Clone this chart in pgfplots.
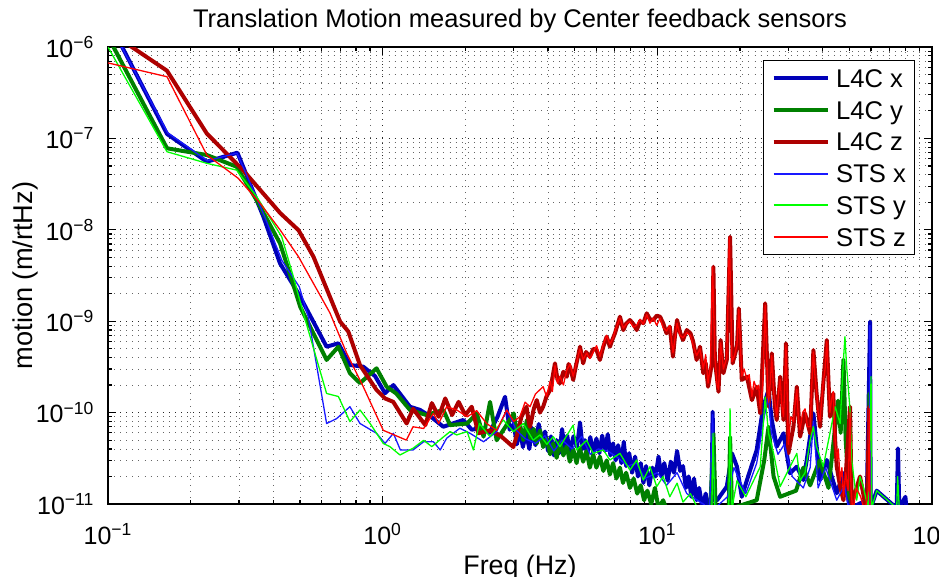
\documentclass[border=0pt]{standalone}
\usepackage{pgfplots}
\pgfplotsset{compat=1.18}
\usepackage{fontspec}
\setmainfont{Liberation Sans}

\definecolor{l4cx}{rgb}{0,0,0.72}
\definecolor{l4cy}{rgb}{0,0.5,0}
\definecolor{l4cz}{rgb}{0.68,0,0}
\definecolor{stsx}{rgb}{0.1,0.1,1}
\definecolor{stsy}{rgb}{0,1,0}
\definecolor{stsz}{rgb}{1,0,0}

\begin{document}
\begin{tikzpicture}
\path[use as bounding box] (-54pt,-36.5pt) rectangle (415.5pt,252pt);
\begin{axis}[
  at={(0,0)}, anchor=south west,
  scale only axis, width=412pt, height=228.5pt,
  xmode=log, ymode=log,
  xmin=0.1, xmax=100, ymin=1e-11, ymax=1e-6,
  xtick={0.1,1,10,100},
  xticklabels={10\textsuperscript{−1},10\textsuperscript{0},10\textsuperscript{1},10\textsuperscript{2}},
  ytick={1e-11,1e-10,1e-9,1e-8,1e-7,1e-6},
  yticklabels={10\textsuperscript{−11},10\textsuperscript{−10},10\textsuperscript{−9},10\textsuperscript{−8},10\textsuperscript{−7},10\textsuperscript{−6}},
  minor xtick={0.2,0.3,0.4,0.5,0.6,0.7,0.8,0.9,2,3,4,5,6,7,8,9,20,30,40,50,60,70,80,90},
  minor ytick={2e-11,3e-11,4e-11,5e-11,6e-11,7e-11,8e-11,9e-11,
               2e-10,3e-10,4e-10,5e-10,6e-10,7e-10,8e-10,9e-10,
               2e-9,3e-9,4e-9,5e-9,6e-9,7e-9,8e-9,9e-9,
               2e-8,3e-8,4e-8,5e-8,6e-8,7e-8,8e-8,9e-8,
               2e-7,3e-7,4e-7,5e-7,6e-7,7e-7,8e-7,9e-7},
  grid=both,
  major grid style={line width=0.45pt, black!85, dash pattern=on 0.45pt off 2.6pt},
  minor grid style={line width=0.45pt, black!60, dash pattern=on 0.45pt off 2.6pt},
  axis line style={line width=0.75pt},
  tick align=inside, tick pos=both,
  major tick length=4pt, minor tick length=2pt,
  every tick/.style={black, line width=0.6pt},
  tick label style={font=\fontsize{12.5}{14}\selectfont},
  xticklabel style={anchor=base, yshift=-20pt},
  yticklabel style={anchor=east, xshift=-3.3pt},
  title={Translation Motion measured by Center feedback sensors},
  title style={at={(axis description cs:0.5,1)}, anchor=base, yshift=3.85pt, font=\fontsize{12.75}{15}\selectfont},
  xlabel={Freq (Hz)},
  xlabel style={at={(axis description cs:0.5,0)}, anchor=base, yshift=-35pt, font=\fontsize{13.4}{15}\selectfont},
  ylabel={motion (m/rtHz)},
  ylabel style={at={(axis description cs:-0.0915,0.5)}, anchor=base, font=\fontsize{13.6}{15}\selectfont},
  legend style={at={(axis description cs:1,1)}, anchor=north east, xshift=-8.85pt, yshift=-6.5pt,
    draw=black, fill=white, font=\fontsize{12.8}{15}\selectfont,
    inner xsep=4pt, inner ysep=0.9pt, row sep=0pt, column sep=3.3pt,
    nodes={inner sep=0pt, text height=12.55pt, text depth=3.35pt}},
  legend cell align=left,
]

% L4C x
\addplot[color=l4cx, line width=2pt, line join=round,
  legend image code/.code={\draw[l4cx, line width=2pt] (0pt,0pt) -- (27pt,0pt);}] coordinates {
(0.1,2.0e-6) (0.164,1.12e-7) (0.229,5.56e-8) (0.296,6.98e-8) (0.368,1.39e-8) (0.423,4.29e-9)
(0.493,2.02e-9) (0.625,5.26e-10) (0.69,5.73e-10) (0.76,3.32e-10) (0.85,3.18e-10) (0.938,2.51e-10)
(1.02,1.63e-10) (1.094,2.0e-10) (1.257,1.16e-10) (1.368,1.07e-10) (1.5,9.0e-11) (1.663,7.0e-11)
(1.8,7.6e-11) (1.966,8.3e-11) (2.11,6.5e-11) (2.3,6.8e-11) (2.45,6.0e-11) (2.62,9.0e-11)
(2.79,1.49e-10) (2.9,6.5e-11)
(3.0,7.5e-11) (3.08,4.5e-11) (3.16,6.5e-11) (3.24,4.2e-11) (3.33,6.0e-11) (3.42,4.0e-11)
(3.5,6.8e-11) (3.6,4.4e-11) (3.7,7.5e-11) (3.8,4.8e-11) (3.9,6.2e-11) (4.0,3.8e-11)
(4.1,5.5e-11) (4.2,3.4e-11) (4.3,5.0e-11) (4.4,3.6e-11) (4.5,6.6e-11) (4.6,4.0e-11)
(4.7,5.6e-11) (4.8,3.6e-11) (4.95,5.5e-11) (5.1,4.2e-11) (5.23,7.8e-11) (5.35,4.0e-11)
(5.45,5.0e-11) (5.55,3.4e-11) (5.7,5.4e-11) (5.85,3.6e-11) (6.0,5.2e-11) (6.15,3.6e-11)
(6.3,5.6e-11) (6.45,3.8e-11) (6.6,5.8e-11) (6.75,3.4e-11) (6.9,4.6e-11) (7.05,3.0e-11)
(7.2,4.4e-11) (7.4,2.8e-11) (7.55,4.8e-11) (7.7,2.6e-11) (7.9,3.6e-11) (8.1,2.2e-11)
(8.3,3.3e-11) (8.5,2.0e-11) (8.7,2.8e-11) (8.9,1.7e-11) (9.1,2.6e-11) (9.35,1.6e-11)
(9.6,2.5e-11) (9.85,2.0e-11) (10.1,3.3e-11) (10.35,2.0e-11) (10.6,2.8e-11) (10.9,1.8e-11)
(11.2,2.9e-11) (11.5,2.2e-11) (11.8,3.8e-11) (12.1,2.3e-11) (12.4,2.6e-11) (12.7,1.5e-11)
(13.0,2.0e-11) (13.3,1.2e-11) (13.6,1.9e-11) (13.9,1.1e-11) (14.2,1.5e-11) (14.6,9e-12)
(15.0,1.3e-11) (15.4,9e-12) (15.75,1.1e-11) (15.9,1.02e-10) (16.1,1.1e-11)
(16.5,1.1e-11) (17.9,1.55e-11) (18.7,3.58e-11) (19.5,2.56e-11) (20.3,1.2e-11) (21.2,1.83e-11)
(23.0,3.9e-11) (24.3,1.16e-10) (25.4,1.77e-10) (26.1,8.3e-11) (27.2,4.24e-11) (28.8,5.94e-11)
(30.4,2.17e-11) (32.2,2.56e-11) (34.0,1.83e-11) (35.0,3.03e-11) (37.0,9.8e-11) (39.1,1.83e-11)
(41.4,3.03e-11) (45.0,1.31e-11) (47.6,2.17e-11) (50.3,9e-12) (57.9,1.1e-11) (59.1,3.2e-10)
(59.5,9.9e-10) (59.8,9e-12) (62.9,1.4e-11) (74.4,9e-12) (75.2,4.07e-11) (76.0,9e-12)
(80.0,1.2e-11) (81,8e-12)
};
\addlegendentry{L4C x}

% L4C y
\addplot[color=l4cy, line width=2pt, line join=round,
  legend image code/.code={\draw[l4cy, line width=2pt] (0pt,0pt) -- (27pt,0pt);}] coordinates {
(0.1,1.3e-6) (0.164,7.8e-8) (0.229,6.58e-8) (0.294,4.9e-8) (0.348,2.1e-8) (0.423,7.1e-9)
(0.467,2.82e-9) (0.501,1.44e-9) (0.625,3.77e-10) (0.69,5.26e-10) (0.76,2.7e-10) (0.827,2.1e-10)
(0.95,3.05e-10) (1.034,1.92e-10) (1.12,1.62e-10) (1.257,1.07e-10) (1.445,9.4e-11) (1.663,1.07e-10)
(1.76,7.3e-11) (2.03,7.6e-11) (2.2,9.8e-11) (2.33,5.45e-11) (2.46,1.31e-10) (2.6,4.98e-11)
(2.8,7.0e-11)
(3.0,9.8e-11) (3.08,6.0e-11) (3.16,7.5e-11) (3.25,5.0e-11) (3.35,8.3e-11) (3.45,5.2e-11)
(3.55,6.6e-11) (3.64,4.6e-11) (3.74,6.4e-11) (3.84,4.2e-11) (3.96,5.2e-11) (4.07,3.5e-11)
(4.18,4.6e-11) (4.3,3.2e-11) (4.42,4.8e-11) (4.55,3.4e-11) (4.68,4.3e-11) (4.8,2.9e-11)
(4.94,4.0e-11) (5.08,2.8e-11) (5.22,4.1e-11) (5.37,2.9e-11) (5.52,3.8e-11) (5.68,2.5e-11)
(5.84,3.5e-11) (6.0,2.5e-11) (6.18,3.3e-11) (6.36,2.3e-11) (6.54,3.0e-11) (6.72,2.1e-11)
(6.9,2.8e-11) (7.1,1.9e-11) (7.31,2.5e-11) (7.5,1.7e-11) (7.7,2.2e-11) (7.95,1.5e-11)
(8.2,1.9e-11) (8.45,1.3e-11) (8.7,1.6e-11) (8.95,1.1e-11) (9.2,1.4e-11) (9.5,1.0e-11)
(9.8,1.5e-11) (10.1,9e-12) (10.5,1.1e-11) (10.9,8e-12)
(15.6,9e-12) (16.0,5.9e-11) (16.3,9e-12) (18.2,9e-12)
(18.4,5.4e-11) (18.7,9e-12) (23,1.1e-11) (24.5,3e-11) (25.4,7e-11) (26.5,2e-11)
(28,1.2e-11) (32,1.4e-11) (34,2.5e-11) (36,1.6e-11) (39,3e-11) (42,1.5e-11)
(45.5,1.35e-10) (46.5,6e-11) (47.6,3.8e-10) (48.5,5e-11) (50,1.2e-11) (52,9e-12)
(59.0,9e-12) (59.2,1.6e-10) (59.5,9e-12)
};
\addlegendentry{L4C y}

% L4C z
\addplot[color=l4cz, line width=2pt, line join=round,
  legend image code/.code={\draw[l4cz, line width=2pt] (0pt,0pt) -- (27pt,0pt);}] coordinates {
(0.1,1.5e-6) (0.164,5.5e-7) (0.229,1.13e-7) (0.31,4.5e-8) (0.424,1.52e-8) (0.494,9.9e-9)
(0.56,5.07e-9) (0.70,9.9e-10) (0.75,7.7e-10) (0.827,3.3e-10) (0.95,1.77e-10) (1.02,1.43e-10)
(1.093,1.31e-10) (1.223,7.6e-11) (1.29,1.1e-10) (1.43,7.3e-11) (1.51,1.27e-10) (1.6,9.0e-11)
(1.69,1.43e-10) (1.79,9.4e-11) (1.89,1.31e-10) (2.0,9.4e-11) (2.11,1.16e-10) (2.23,5.94e-11)
(2.46,6.4e-11) (2.7,5.5e-11) (2.99,4.2e-11) (3.1,6e-11) (3.2,9e-11) (3.34,1.16e-10)
(3.4,8e-11) (3.44,7.0e-11) (3.55,1.1e-10) (3.64,1.37e-10) (3.74,1.0e-10) (3.84,1.16e-10)
(3.95,1.5e-10) (4.07,1.77e-10) (4.15,2.4e-10) (4.24,3.46e-10) (4.33,2.3e-10) (4.42,2.09e-10)
(4.55,2.8e-10) (4.68,2.47e-10) (4.75,3.4e-10) (4.81,3.17e-10) (4.94,2.28e-10) (5.05,3.2e-10)
(5.15,4.2e-10) (5.23,5.26e-10) (5.37,3.46e-10) (5.5,4.6e-10) (5.68,4.09e-10) (5.85,5.0e-10)
(6.01,4.84e-10) (6.18,3.77e-10) (6.35,5.2e-10) (6.54,6.77e-10) (6.72,5.26e-10) (6.85,6.2e-10)
(7.01,7.37e-10) (7.15,9e-10) (7.31,1.12e-9) (7.52,8.0e-10) (7.7,9.4e-10) (7.95,1.03e-9)
(8.2,9.2e-10) (8.41,8.0e-10) (8.65,1.0e-9) (8.9,9.5e-10) (9.15,1.22e-9) (9.4,1.05e-9)
(9.67,1.03e-9) (9.95,1.15e-9) (10.23,1.12e-9) (10.5,9.5e-10) (10.8,7.37e-10) (11.1,8.7e-10)
(11.25,6e-10) (11.4,4.09e-10) (11.6,7e-10) (11.8,1.03e-9) (12.1,7.5e-10) (12.4,6.23e-10)
(12.8,8.0e-10) (13.2,7.37e-10) (13.5,6e-10) (13.9,3.77e-10) (14.3,5.26e-10) (14.7,2.7e-10)
(15.0,3.5e-10) (15.3,1.92e-10) (15.8,3.46e-10) (16.0,3.95e-9) (16.2,3.77e-10)
(16.7,1.69e-10) (17.0,6.23e-10) (17.4,2.7e-10) (17.9,3.77e-10) (18.4,8.4e-9) (18.8,3.46e-10)
(19.5,5.26e-10) (19.8,1.38e-9) (20.3,2.28e-10) (21.2,2.47e-10) (22.1,1.37e-10) (23.0,1.92e-10)
(23.7,9.8e-11) (24.7,1.57e-9) (25.4,1.16e-10) (26.1,4.45e-10) (26.8,1.16e-10) (27.2,8.3e-11)
(28.0,2.47e-10) (28.8,8.3e-11) (29.4,5.73e-10) (30.0,3.58e-11) (31.3,7.0e-11) (32.2,1.92e-10)
(33.1,5.45e-11) (34.5,9.8e-11) (36.0,5.94e-11) (37.0,4.84e-10) (38.0,1.62e-10) (39.1,7.0e-11)
(40.2,2.09e-10) (41.4,6.23e-10) (42.5,9.0e-11) (43.7,1.62e-10) (44.4,5.0e-11) (45.0,2.56e-11)
(46.3,1.55e-11) (47.6,1.1e-11) (48.5,2.0e-11) (50.3,1.16e-10) (51.0,1.0e-11) (54.7,2.0e-11)
(57.9,8e-12) (59.1,1.16e-10) (59.6,8e-12)
};
\addlegendentry{L4C z}

% STS x
\addplot[color=stsx, line width=0.65pt, line join=round,
  legend image code/.code={\draw[stsx, line width=1pt] (0pt,0pt) -- (27pt,0pt);}] coordinates {
(0.1,1.9e-6) (0.165,1.15e-7) (0.23,5.7e-8) (0.295,6.9e-8) (0.37,1.45e-8) (0.43,4.6e-9)
(0.497,2.38e-9) (0.536,1.12e-9) (0.625,7.6e-11) (0.68,8.6e-11) (0.76,1.16e-10) (0.827,7.6e-11)
(0.95,5.94e-11) (1.02,4.6e-11) (1.094,5.94e-11) (1.16,3.9e-11) (1.29,3.9e-11) (1.41,4.8e-11)
(1.53,4.8e-11) (1.62,3.9e-11) (1.71,5.24e-11) (1.91,6.74e-11) (2.08,5.94e-11) (2.33,4.8e-11)
(2.6,6.18e-11) (2.83,1.07e-10) (3.07,6.4e-11) (3.3,5.2e-11) (3.6,4.6e-11) (3.9,5.6e-11)
(4.2,3.8e-11) (4.5,5.0e-11) (4.9,4.0e-11) (5.3,5.5e-11) (5.7,3.5e-11) (6.1,4.0e-11)
(6.6,3.8e-11) (7.2,3.2e-11) (7.8,2.6e-11) (8.4,2.8e-11) (9.0,1.9e-11) (10.0,2.2e-11)
(10.8,1.6e-11) (11.8,2.2e-11) (12.8,1.3e-11) (14,1.1e-11) (15.5,9e-12) (15.9,9.5e-11)
(16.2,9e-12) (18,1.2e-11) (19,2.5e-11) (21,1.3e-11) (23,2.8e-11) (24.5,9e-11)
(25.4,1.5e-10) (26,6e-11) (27.5,3.5e-11) (29,4.5e-11) (31,2e-11) (34,1.5e-11)
(36,2.5e-11) (37,8e-11) (38.5,1.5e-11) (41,2.5e-11) (45,1.1e-11) (48,1.6e-11)
(50,8e-12) (59.0,1e-11) (59.4,9e-10) (59.8,8e-12)
};
\addlegendentry{STS x}

% STS y
\addplot[color=stsy, line width=0.65pt, line join=round,
  legend image code/.code={\draw[stsy, line width=1pt] (0pt,0pt) -- (27pt,0pt);}] coordinates {
(0.1,1.0e-6) (0.164,7.15e-8) (0.229,5.34e-8) (0.294,4.5e-8) (0.348,2.3e-8) (0.429,8.4e-9)
(0.473,3.07e-9) (0.514,1.23e-9) (0.625,1.62e-10) (0.69,1.5e-10) (0.76,7.97e-11) (0.827,1.07e-10)
(0.9,7.6e-11) (1.005,4.6e-11) (1.063,4.24e-11) (1.156,3.44e-11) (1.29,4.07e-11) (1.41,4.98e-11)
(1.51,4.24e-11) (1.65,5.3e-11) (1.76,6.2e-11) (1.86,5.7e-11) (2.03,6.2e-11) (2.14,3.9e-11)
(2.25,7.6e-11) (2.46,5.45e-11) (2.75,8.3e-11) (2.99,6.2e-11) (3.25,7.6e-11) (3.53,5.0e-11)
(3.74,5.7e-11) (3.96,4.5e-11) (4.18,5.45e-11) (4.42,4.24e-11) (4.94,7.3e-11) (5.09,3.9e-11)
(5.53,4.98e-11) (5.84,3.58e-11) (6.36,3.9e-11) (6.72,3.03e-11) (7.31,3.58e-11) (7.95,2.35e-11)
(8.41,3.03e-11) (8.89,1.83e-11) (9.4,2.56e-11) (9.95,1.55e-11) (10.5,2.0e-11) (11.1,1.2e-11)
(11.8,1.69e-11) (12.4,1.05e-11) (13.2,1.3e-11) (14,9e-12) (15.8,9e-12) (15.95,5.9e-11)
(16.2,9e-12) (18.2,9e-12) (18.4,1.1e-10) (18.7,9e-12) (19.5,1.8e-11) (21,1.2e-11)
(23.7,2.56e-11) (24.7,1.48e-10) (25.4,5.94e-11) (26.5,3.58e-11) (28,1.55e-11) (29.6,2.17e-11)
(32.2,3.58e-11) (33.1,1.8e-11) (34.5,2.2e-11) (36.0,4.98e-11) (37.0,7.0e-11) (38.0,4.24e-11)
(40.2,2.56e-11) (42.5,5.94e-11) (44.4,1.16e-10) (46.3,7.6e-11) (47.6,3.77e-10) (48.2,6.77e-10)
(48.9,3.17e-10) (50.3,1.07e-10) (51.0,3.03e-11) (53.2,1.1e-11) (54.7,2.0e-11) (56.2,1.55e-11)
(58.5,9e-12) (60.0,2.47e-10) (60.3,9e-12) (62.9,1.4e-11) (74.4,9e-12) (75.0,2.0e-11) (76,9e-12)
};
\addlegendentry{STS y}

% STS z
\addplot[color=stsz, line width=0.65pt, line join=round,
  legend image code/.code={\draw[stsz, line width=1pt] (0pt,0pt) -- (27pt,0pt);}] coordinates {
(0.1,6.7e-7) (0.164,4.73e-7) (0.229,6.58e-8) (0.298,3.66e-8) (0.358,1.95e-8) (0.423,1.0e-8)
(0.494,5.07e-9) (0.551,2.82e-9) (0.643,1.23e-9) (0.74,4.45e-10) (0.85,1.92e-10) (1.005,6.4e-11)
(1.22,5.0e-11) (1.29,7.0e-11) (1.41,6.7e-11) (1.53,9.8e-11) (1.6,7.6e-11) (1.71,1.16e-10)
(1.86,1.07e-10) (2.03,9.0e-11) (2.2,1.05e-10) (2.39,7.6e-11) (2.6,6.4e-11) (2.83,1.07e-10)
(3.0,8.0e-11) (3.16,9.0e-11) (3.3,1.3e-10) (3.44,1.16e-10) (3.6,1.6e-10) (3.84,1.92e-10)
(3.95,1.5e-10) (4.07,2.2e-10) (4.15,1.7e-10) (4.24,3.3e-10) (4.33,2.1e-10) (4.42,2.5e-10)
(4.55,2.0e-10) (4.68,2.9e-10) (4.81,3.4e-10) (4.94,2.5e-10) (5.09,3.6e-10) (5.23,5.0e-10)
(5.37,3.8e-10) (5.53,4.5e-10) (5.68,3.9e-10) (5.84,4.6e-10) (6.01,5.4e-10) (6.18,4.1e-10)
(6.36,5.6e-10) (6.54,7.0e-10) (6.72,5.6e-10) (6.91,6.6e-10) (7.01,7.8e-10) (7.31,1.08e-9)
(7.52,8.4e-10) (7.75,9.5e-10) (7.95,1.0e-9) (8.18,8.6e-10) (8.41,9.0e-10) (8.65,1.05e-9)
(8.89,9.3e-10) (9.15,1.18e-9) (9.4,9.5e-10) (9.67,1.08e-9) (9.95,9.0e-10) (10.23,1.08e-9)
(10.5,8.5e-10) (10.8,7.8e-10) (11.1,9.0e-10) (11.4,4.5e-10) (11.8,9.5e-10) (12.1,7.0e-10)
(12.4,6.6e-10) (12.8,7.5e-10) (13.2,7.0e-10) (13.5,5.5e-10) (13.9,4.2e-10) (14.3,5.0e-10)
(14.7,3.0e-10) (15.0,4.3e-10) (15.3,2.1e-10) (15.6,3.2e-10) (15.9,3.9e-9) (16.2,4.0e-10)
(16.5,2.0e-10) (16.7,1.8e-10) (17.0,5.8e-10) (17.4,3.0e-10) (17.9,4.0e-10) (18.3,8.2e-9)
(18.7,3.6e-10) (19.1,4.2e-10) (19.5,5.5e-10) (19.8,1.35e-9) (20.3,2.5e-10) (20.7,3.0e-10)
(21.2,2.3e-10) (21.6,2.6e-10) (22.1,1.5e-10) (22.5,2.2e-10) (23.0,1.8e-10) (23.4,2.0e-10)
(23.7,1.1e-10) (24.2,2.0e-10) (24.7,1.5e-9) (25.1,3.0e-10) (25.4,1.3e-10) (25.8,2.2e-10)
(26.1,4.2e-10) (26.5,1.7e-10) (26.8,1.3e-10) (27.2,9.0e-11) (27.6,1.6e-10) (28.0,2.3e-10)
(28.4,1.2e-10) (28.8,9.0e-11) (29.1,1.9e-10) (29.4,5.5e-10) (29.8,1.0e-10) (30.0,4.5e-11)
(30.6,9.0e-11) (31.3,8.0e-11) (31.8,1.3e-10) (32.2,1.8e-10) (32.6,9.0e-11) (33.1,6.5e-11)
(33.8,1.0e-10) (34.5,1.1e-10) (35.2,7.0e-11) (36.0,7.0e-11) (36.5,2.0e-10) (37.0,4.6e-10)
(37.5,2.5e-10) (38.0,1.7e-10) (38.5,1.0e-10) (39.1,8.0e-11) (39.6,1.3e-10) (40.2,2.2e-10)
(40.8,3.0e-10) (41.4,6.0e-10) (41.9,2.5e-10) (42.5,1.0e-10) (43.1,1.4e-10) (43.7,1.7e-10)
(44.1,8.0e-11) (44.4,5.0e-11) (45.0,3.0e-11) (45.6,4.0e-11) (46.3,1.8e-11) (47.0,2.5e-11)
(47.6,1.2e-11) (48.5,2.2e-11) (49.5,1.4e-11) (50.3,1.0e-10) (50.7,1.5e-11) (51.5,8e-12)
(53,1.5e-11) (55,1.2e-11) (57,8e-12) (58.7,1.5e-11) (59.1,1.1e-10) (59.5,8e-12)
};
\addlegendentry{STS z}

\end{axis}
\end{tikzpicture}
\end{document}
